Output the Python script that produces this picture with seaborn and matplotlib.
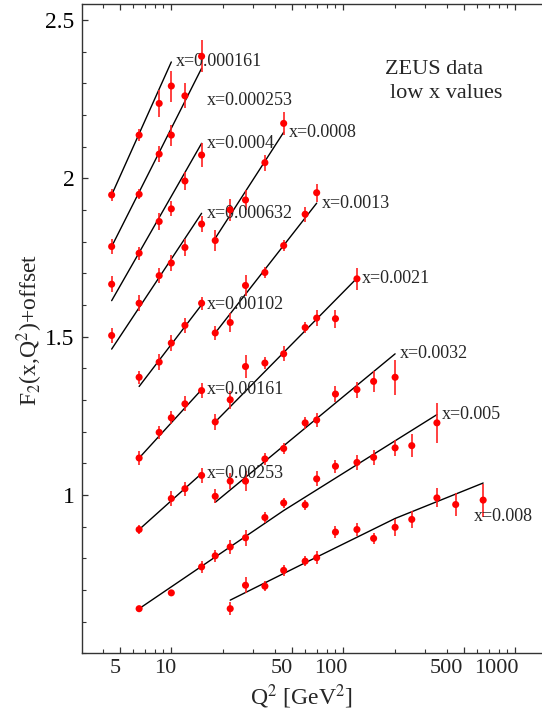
import numpy as np
import pandas as pd
import matplotlib
matplotlib.use("Agg")
import matplotlib.pyplot as plt
import matplotlib.ticker as mticker
import seaborn as sns

# x bins shown in the chart (label text next to each fit line)
x_labels = ["x=0.000161", "x=0.000253", "x=0.0004", "x=0.000632", "x=0.0008",
            "x=0.00102", "x=0.0013", "x=0.00161", "x=0.0021", "x=0.00253",
            "x=0.0032", "x=0.005", "x=0.008"]

# measured points: Q^2 [GeV^2]
q2_points = [
    [4.5, 6.5, 8.5, 10],
    [4.5, 6.5, 8.5, 10, 12, 15],
    [4.5, 6.5, 8.5, 10, 12, 15],
    [4.5, 6.5, 8.5, 10, 12, 15],
    [18, 22, 27, 35, 45],
    [6.5, 8.5, 10, 12, 15],
    [18, 22, 27, 35, 45, 60, 70],
    [6.5, 8.5, 10, 12, 15],
    [18, 22, 27, 35, 45, 60, 70, 90, 120],
    [6.5, 10, 12, 15],
    [18, 22, 27, 35, 45, 60, 70, 90, 120, 150, 200],
    [6.5, 10, 15, 18, 22, 27, 35, 45, 60, 70, 90, 120, 150, 200, 250, 350],
    [22, 27, 35, 45, 60, 70, 90, 120, 150, 200, 250, 350, 450, 650],
]

# F2 + offset
f2_points = [
    [1.948, 2.137, 2.237, 2.292],
    [1.785, 1.950, 2.077, 2.137, 2.261, 2.386],
    [1.666, 1.764, 1.864, 1.904, 1.992, 2.074],
    [1.504, 1.606, 1.693, 1.733, 1.782, 1.856],
    [1.804, 1.901, 1.932, 2.050, 2.174],
    [1.372, 1.420, 1.480, 1.536, 1.606],
    [1.512, 1.545, 1.662, 1.703, 1.788, 1.887, 1.955],
    [1.117, 1.198, 1.244, 1.288, 1.330],
    [1.231, 1.301, 1.406, 1.417, 1.446, 1.529, 1.559, 1.557, 1.683],
    [0.891, 0.989, 1.020, 1.062],
    [0.996, 1.044, 1.044, 1.114, 1.147, 1.228, 1.237, 1.319, 1.333, 1.359, 1.372],
    [0.641, 0.691, 0.773, 0.808, 0.836, 0.865, 0.929, 0.975, 0.969, 1.051,
     1.091, 1.103, 1.119, 1.149, 1.156, 1.228],
    [0.641, 0.715, 0.712, 0.762, 0.791, 0.802, 0.883, 0.891, 0.863, 0.898,
     0.923, 0.991, 0.970, 0.984],
]

# errors on F2
f2_errors = [
    [0.018, 0.018, 0.042, 0.049],
    [0.024, 0.016, 0.024, 0.033, 0.039, 0.050],
    [0.026, 0.021, 0.026, 0.024, 0.029, 0.037],
    [0.024, 0.026, 0.024, 0.025, 0.026, 0.026],
    [0.032, 0.034, 0.032, 0.025, 0.037],
    [0.021, 0.024, 0.026, 0.024, 0.021],
    [0.023, 0.029, 0.034, 0.018, 0.018, 0.023, 0.029],
    [0.021, 0.021, 0.021, 0.024, 0.024],
    [0.024, 0.028, 0.037, 0.020, 0.024, 0.018, 0.024, 0.028, 0.034],
    [0.014, 0.024, 0.022, 0.024],
    [0.022, 0.026, 0.032, 0.018, 0.018, 0.019, 0.022, 0.024, 0.025, 0.032, 0.056],
    [0.010, 0.010, 0.018, 0.018, 0.022, 0.026, 0.016, 0.016, 0.016, 0.024,
     0.021, 0.024, 0.024, 0.026, 0.037, 0.063],
    [0.021, 0.026, 0.016, 0.018, 0.016, 0.021, 0.018, 0.021, 0.018, 0.026,
     0.026, 0.030, 0.037, 0.052],
]

# fit curves, sampled at a few Q^2 values
fit_q2 = [
    [4.5, 10], [4.5, 15], [4.5, 15], [4.5, 15], [18, 45], [6.5, 15], [18, 70],
    [6.5, 15], [18, 120], [6.5, 15], [18, 200], [6.5, 45, 350], [22, 60, 200, 650],
]
fit_f2 = [
    [1.948, 2.368], [1.785, 2.348], [1.614, 2.111], [1.461, 1.890], [1.811, 2.146],
    [1.343, 1.601], [1.512, 1.922], [1.117, 1.333], [1.231, 1.685], [0.891, 1.068],
    [0.977, 1.446], [0.641, 0.951, 1.254], [0.668, 0.786, 0.926, 1.038],
]

x_ticks = [5, 10, 50, 100, 500, 1000]
y_ticks = [1.0, 1.5, 2.0, 2.5]


def build_frames():
    pts = []
    fits = []
    for i, lab in enumerate(x_labels):
        for q, f, e in zip(q2_points[i], f2_points[i], f2_errors[i]):
            pts.append({"bin": lab, "Q2": q, "F2": f, "err": e})
        for q, f in zip(fit_q2[i], fit_f2[i]):
            fits.append({"bin": lab, "Q2": q, "F2": f})
    return pd.DataFrame(pts), pd.DataFrame(fits)


sns.set_theme(style="ticks")
plt.rcParams["font.family"] = ["Liberation Serif", "DejaVu Serif"]
plt.rcParams["mathtext.fontset"] = "stix"

pts_df, fit_df = build_frames()

fig = plt.figure(figsize=(5.42, 7.13), dpi=100)
ax = fig.add_axes([0.1504, 0.0837, 0.8696, 0.9102])
ax.set_xscale("log")

# fit lines
sns.lineplot(data=fit_df, x="Q2", y="F2", units="bin", estimator=None, sort=False,
             color="black", lw=1.0, ax=ax, legend=False)

# error bars + points
ax.errorbar(pts_df["Q2"], pts_df["F2"], yerr=pts_df["err"], fmt="none",
            ecolor="#ff2020", elinewidth=1.2, capsize=0, zorder=3)
sns.scatterplot(data=pts_df, x="Q2", y="F2", color="red", s=26, edgecolor="none",
                ax=ax, zorder=4, legend=False)

# bin labels next to line ends
label_shift = {1: (5, -32), 12: (-9, -33)}
for i, lab in enumerate(x_labels):
    dx, dy = label_shift.get(i, (5, 0))
    ax.annotate(lab, xy=(fit_q2[i][-1], fit_f2[i][-1]), xytext=(dx, dy),
                textcoords="offset pixels", ha="left", va="center", fontsize=13)

ax.set_xlim(3.006, 1652)
ax.set_ylim(0.5, 2.55)

# ticks
ax.xaxis.set_major_locator(mticker.FixedLocator(x_ticks))
ax.xaxis.set_minor_locator(mticker.LogLocator(base=10, subs=np.arange(2, 10)))
ax.xaxis.set_major_formatter(mticker.NullFormatter())
ax.xaxis.set_minor_formatter(mticker.NullFormatter())
ax.yaxis.set_major_locator(mticker.FixedLocator(y_ticks))
ax.yaxis.set_minor_locator(mticker.MultipleLocator(0.1))
ax.yaxis.set_major_formatter(mticker.FormatStrFormatter("%g"))
ax.tick_params(which="both", direction="in", top=True, right=False, colors="#333333")
ax.tick_params(which="major", length=4, width=0.9, labelcolor="black", pad=5)
ax.tick_params(axis="y", which="major", labelsize=17)
ax.tick_params(which="minor", length=3, width=0.8)
for s in ["left", "bottom", "top"]:
    ax.spines[s].set_linewidth(1.0)
    ax.spines[s].set_color("#333333")
ax.spines["right"].set_visible(False)

# x tick labels drawn by hand (they sit a little left of their ticks in the original)
label_dx = {5: -4.7, 10: -5.6, 50: -9.7, 100: -12.3, 500: -17.3, 1000: -19.0}
for v in x_ticks:
    ax.annotate(str(v), xy=(v, 0), xycoords=("data", "axes fraction"),
                xytext=(label_dx[v], -15), textcoords="offset pixels",
                ha="center", va="center", fontsize=16, annotation_clip=False)

ax.set_xlabel(r"Q$^2$ [GeV$^2$]", fontsize=17)
ax.xaxis.label.set_va("center")
ax.xaxis.set_label_coords(0.467, -0.067)
ax.set_ylabel(r"F$_2$(x,Q$^2$)+offset", fontsize=17)
ax.yaxis.label.set_va("center")
ax.yaxis.set_label_coords(-0.109, 0.498)

fig.text(385 / 542, 1 - 70 / 713, "ZEUS data", fontsize=16, ha="left", va="center")
fig.text(390 / 542, 1 - 94 / 713, "low x values", fontsize=16, ha="left", va="center")

fig.savefig("out.png", dpi=100)
